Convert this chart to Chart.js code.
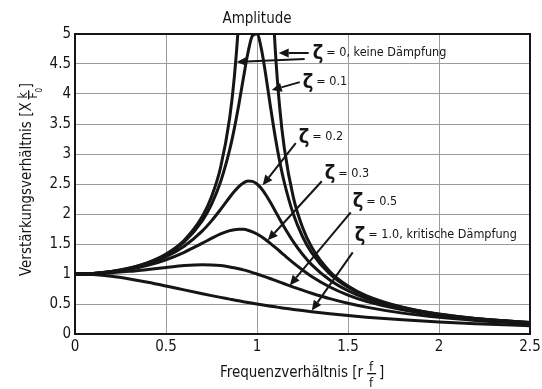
<!DOCTYPE html>
<html>
<head>
<meta charset="utf-8">
<script src="https://cdn.jsdelivr.net/npm/chart.js@4.4.1/dist/chart.umd.min.js"></script>
<style>
  html, body { margin: 0; padding: 0; background: #fff; }
  #wrap { width: 542px; height: 389px; }
</style>
</head>
<body>
<div id="wrap"><canvas id="c" width="542" height="389"></canvas></div>
<script>
// Frequency ratio r = f / fn
const ratio = [0, 0.1, 0.2, 0.3, 0.4, 0.5, 0.6, 0.7, 0.75, 0.8, 0.85, 0.875, 0.9, 0.925, 0.95, 0.975,
  1.0, 1.025, 1.05, 1.075, 1.1, 1.125, 1.15, 1.2, 1.25, 1.3, 1.4, 1.5, 1.6, 1.8, 2.0, 2.2, 2.5];

// Amplification ratio X·k/F0 for each damping ratio ζ
const zeta0 = [1, 1.010, 1.042, 1.099, 1.190, 1.333, 1.563, 1.961, 2.286, 2.778, 3.604, 4.267, 5.263, 6.926, 10.26, 20.25,
  null, 19.75, 9.756, 6.426, 4.762, 3.765, 3.101, 2.273, 1.778, 1.449, 1.042, 0.800, 0.641, 0.446, 0.333, 0.260, 0.190];
const zeta01 = [1, 1.010, 1.041, 1.097, 1.185, 1.322, 1.536, 1.891, 2.162, 2.538, 3.073, 3.419, 3.821, 4.261, 4.683, 4.971,
  5.000, 4.736, 4.279, 3.768, 3.288, 2.873, 2.525, 1.995, 1.625, 1.356, 1.000, 0.778, 0.628, 0.441, 0.330, 0.259, 0.190];
const zeta02 = [1, 1.009, 1.038, 1.090, 1.170, 1.288, 1.463, 1.719, 1.885, 2.076, 2.279, 2.374, 2.457, 2.518, 2.549, 2.544,
  2.500, 2.421, 2.313, 2.187, 2.051, 1.914, 1.780, 1.536, 1.329, 1.157, 0.900, 0.721, 0.593, 0.425, 0.322, 0.254, 0.187];
const zeta03 = [1, 1.008, 1.034, 1.078, 1.145, 1.238, 1.362, 1.514, 1.593, 1.667, 1.722, 1.739, 1.747, 1.744, 1.729, 1.703,
  1.667, 1.621, 1.567, 1.507, 1.444, 1.379, 1.313, 1.185, 1.067, 0.960, 0.784, 0.649, 0.546, 0.402, 0.310, 0.246, 0.183];
const zeta05 = [1, 1.005, 1.020, 1.044, 1.075, 1.109, 1.140, 1.155, 1.152, 1.140, 1.118, 1.104, 1.087, 1.068, 1.047, 1.024,
  1.000, 0.974, 0.948, 0.921, 0.893, 0.865, 0.837, 0.782, 0.730, 0.680, 0.589, 0.512, 0.448, 0.348, 0.277, 0.226, 0.172];
const zeta10 = [1, 0.990, 0.962, 0.917, 0.862, 0.800, 0.735, 0.671, 0.640, 0.610, 0.581, 0.566, 0.553, 0.539, 0.526, 0.513,
  0.500, 0.488, 0.476, 0.464, 0.453, 0.441, 0.431, 0.410, 0.390, 0.372, 0.338, 0.308, 0.281, 0.236, 0.200, 0.171, 0.138];

const xTicks = [0, 0.5, 1, 1.5, 2, 2.5];
const yTicks = [0, 0.5, 1, 1.5, 2, 2.5, 3, 3.5, 4, 4.5, 5];

const seriesList = [zeta0, zeta01, zeta02, zeta03, zeta05, zeta10];

// Curve labels: text, and where the ζ sits (in r / amplitude units)
const noteText = ['= 0, keine Dämpfung', '= 0.1', '= 0.2', '= 0.3', '= 0.5', '= 1.0, kritische Dämpfung'];
const noteAt = [[1.306, 4.683], [1.251, 4.198], [1.229, 3.280], [1.372, 2.679], [1.526, 2.212], [1.537, 1.653]];
// Arrows from a label to its curve: [r0, a0, r1, a1]
const arrows = [
  [1.284, 4.683, 1.119, 4.683],
  [1.262, 4.583, 0.888, 4.533],
  [1.235, 4.198, 1.081, 4.065],
  [1.213, 3.180, 1.031, 2.479],
  [1.356, 2.546, 1.059, 1.561],
  [1.515, 2.028, 1.180, 0.810],
  [1.526, 1.361, 1.301, 0.392]
];

const FONT = "'DejaVu Sans Condensed', 'Liberation Sans Narrow', sans-serif";
const INK = '#151515';

const decorations = {
  id: 'decorations',
  afterDatasetsDraw(chart) {
    const { ctx, chartArea: a } = chart;
    ctx.save();
    ctx.strokeStyle = INK;
    ctx.lineWidth = 2;
    ctx.strokeRect(a.left, a.top, a.right - a.left, a.bottom - a.top);
    ctx.restore();
  },
  afterDraw(chart) {
    const { ctx } = chart;
    const xs = chart.scales.x, ys = chart.scales.y;
    ctx.save();
    ctx.fillStyle = INK;
    ctx.strokeStyle = INK;

    // chart title
    ctx.font = '15px ' + FONT;
    ctx.textAlign = 'center';
    ctx.textBaseline = 'alphabetic';
    ctx.fillText('Amplitude', 257, 23);

    // x axis title with fraction f / fn
    ctx.textAlign = 'left';
    ctx.font = '15px ' + FONT;
    const xt = 'Frequenzverhältnis [r';
    const xw = ctx.measureText(xt).width;
    const x0 = 220;
    ctx.fillText(xt, x0, 377);
    const fx = x0 + xw + 4;
    ctx.font = '13px ' + FONT;
    ctx.textAlign = 'center';
    ctx.fillText('f', fx + 4, 371);
    ctx.fillText('f', fx + 4, 387);
    ctx.font = '9px ' + FONT;
    ctx.fillText('n', fx + 9, 396);
    ctx.fillRect(fx, 373, 9, 1.3);
    ctx.font = '15px ' + FONT;
    ctx.textAlign = 'left';
    ctx.fillText(']', fx + 12, 377);

    // y axis title with fraction k / F0 (rotated)
    ctx.save();
    ctx.translate(31, 276);
    ctx.rotate(-Math.PI / 2);
    ctx.font = '15px ' + FONT;
    ctx.textAlign = 'left';
    const yt = 'Verstärkungsverhältnis [X';
    const yw = ctx.measureText(yt).width;
    ctx.fillText(yt, 0, 0);
    const gx = yw + 3;
    ctx.font = '12px ' + FONT;
    ctx.textAlign = 'center';
    ctx.fillText('k', gx + 4, -4);
    ctx.fillText('F', gx + 4, 6);
    ctx.font = '8px ' + FONT;
    ctx.fillText('0', gx + 9, 11);
    ctx.fillRect(gx, -3, 9, 1.3);
    ctx.font = '15px ' + FONT;
    ctx.textAlign = 'left';
    ctx.fillText(']', gx + 11, 0);
    ctx.restore();

    // arrows
    ctx.lineWidth = 2;
    arrows.forEach(([r0, v0, r1, v1]) => {
      const p0x = xs.getPixelForValue(r0), p0y = ys.getPixelForValue(v0);
      const p1x = xs.getPixelForValue(r1), p1y = ys.getPixelForValue(v1);
      const ang = Math.atan2(p1y - p0y, p1x - p0x);
      const hl = 10, hw = 4.5;
      const bx = p1x - hl * Math.cos(ang), by = p1y - hl * Math.sin(ang);
      ctx.beginPath();
      ctx.moveTo(p0x, p0y);
      ctx.lineTo(bx, by);
      ctx.stroke();
      ctx.beginPath();
      ctx.moveTo(p1x, p1y);
      ctx.lineTo(bx + hw * Math.sin(ang), by - hw * Math.cos(ang));
      ctx.lineTo(bx - hw * Math.sin(ang), by + hw * Math.cos(ang));
      ctx.closePath();
      ctx.fill();
    });

    // ζ labels
    ctx.textAlign = 'left';
    ctx.textBaseline = 'middle';
    noteText.forEach((t, i) => {
      const px = xs.getPixelForValue(noteAt[i][0]);
      const py = ys.getPixelForValue(noteAt[i][1]);
      ctx.font = 'bold 20px ' + FONT;
      ctx.fillText('ζ', px, py + 1);
      const zw = ctx.measureText('ζ').width;
      ctx.font = '12.5px ' + FONT;
      ctx.fillText(t, px + zw + 3, py);
    });
    ctx.restore();
  }
};

const datasets = seriesList.map(s => ({
  data: ratio.map((r, i) => ({ x: r, y: s[i] })),
  borderColor: INK,
  borderWidth: 3,
  pointRadius: 0,
  fill: false,
  cubicInterpolationMode: 'monotone',
  spanGaps: false,
  clip: 0
}));

new Chart(document.getElementById('c'), {
  type: 'line',
  data: { datasets },
  options: {
    responsive: false,
    animation: false,
    devicePixelRatio: 1,
    layout: { padding: { left: 0, top: 34, right: 12, bottom: 0 } },
    plugins: { legend: { display: false }, tooltip: { enabled: false }, title: { display: false } },
    scales: {
      x: {
        type: 'linear', min: 0, max: 2.5,
        afterBuildTicks: s => { s.ticks = xTicks.map(v => ({ value: v })); },
        afterFit: s => { s.height = 55; s.paddingLeft = 0; s.paddingRight = 0; },
        grid: { color: '#9c9c9c', lineWidth: 1, drawTicks: false },
        border: { display: false },
        ticks: { color: INK, font: { family: FONT, size: 15 }, padding: 4, maxRotation: 0,
          callback: v => String(v) }
      },
      y: {
        type: 'linear', min: 0, max: 5,
        afterBuildTicks: s => { s.ticks = yTicks.map(v => ({ value: v })); },
        afterFit: s => { s.width = 75; s.paddingTop = 0; s.paddingBottom = 0; },
        grid: { color: '#9c9c9c', lineWidth: 1, drawTicks: false },
        border: { display: false },
        ticks: { color: INK, font: { family: FONT, size: 15 }, padding: 4,
          callback: v => String(v) }
      }
    }
  },
  plugins: [decorations]
});
</script>
</body>
</html>
